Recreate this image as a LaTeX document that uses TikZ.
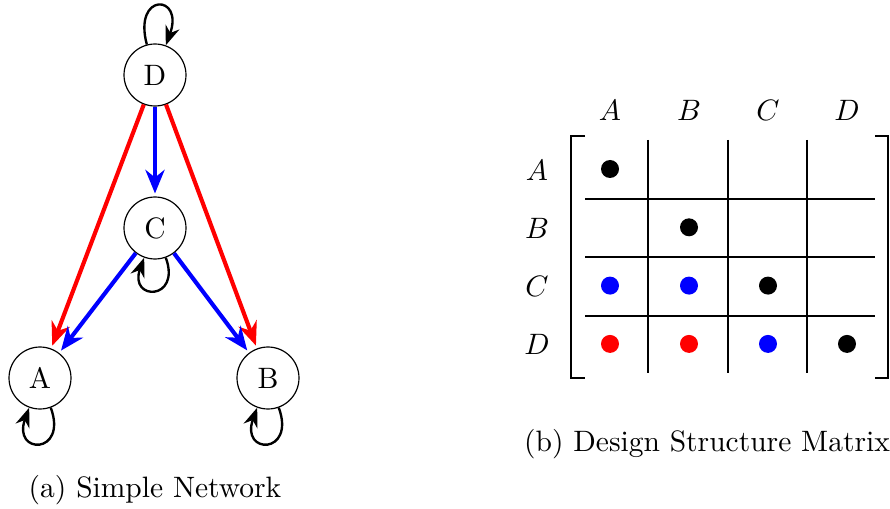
\documentclass[tikz,border=0pt]{standalone}
\usepackage{amsfonts,amssymb,amsmath}
\usepackage{tikz}
\usetikzlibrary{arrows.meta}

\begin{document}
\begin{tikzpicture}[>=Stealth,x=0.3388pt,y=-0.3388pt]
\tikzset{vertex/.style={draw,circle,minimum size=21pt,inner sep=0pt},
link/.style={-{Stealth[length=8pt,width=6.5pt]},line width=1.4pt,shorten >=1pt},
selfloop/.style={->,thick,min distance=7mm}}
\useasboundingbox(0,0)rectangle(890,508);
% network
\node[vertex](D)at(155,75){D};
\node[vertex](C)at(155,228){C};
\node[vertex](A)at(40,378){A};
\node[vertex](B)at(268,378){B};
\draw[link,red](D)--(A);
\draw[link,red](D)--(B);
\draw[link,blue](D)--(C);
\draw[link,blue](C)--(A);
\draw[link,blue](C)--(B);
\path(D)edge[selfloop,out=105,in=70,loop,min distance=6.5mm](D);
\path(C)edge[selfloop,out=-70,in=-110,loop,min distance=5.5mm](C);
\path(A)edge[selfloop,out=-70,in=-110,loop,min distance=6mm](A);
\path(B)edge[selfloop,out=-70,in=-110,loop,min distance=6mm](B);
\node(capa)at(155,490){(a) Simple Network};
% design structure matrix
\foreach \n[count=\i] in {A,B,C,D}{
\node(col\n)at({610+79*(\i-1)},110){$\n$};
\node(row\n)at(537,{170+58.3*(\i-1)}){$\n$};
}
\foreach \x in {648,728,807}\draw(\x,140)--(\x,373);
\foreach \y in {199,257,316}\draw(585,\y)--(875,\y);
\draw[line width=1pt](585,136)--(571,136)--(571,378)--(585,378);
\draw[line width=1pt](875,136)--(888,136)--(888,378)--(875,378);
\foreach \c/\r/\col in {1/1/black,2/2/black,1/3/blue,2/3/blue,3/3/black,1/4/red,2/4/red,3/4/blue,4/4/black}
\fill[\col]({610+79*(\c-1)},{169+58.3*(\r-1)})circle[radius=9];
\node(capb)at(707,444){(b) Design Structure Matrix};
\end{tikzpicture}
\end{document}
